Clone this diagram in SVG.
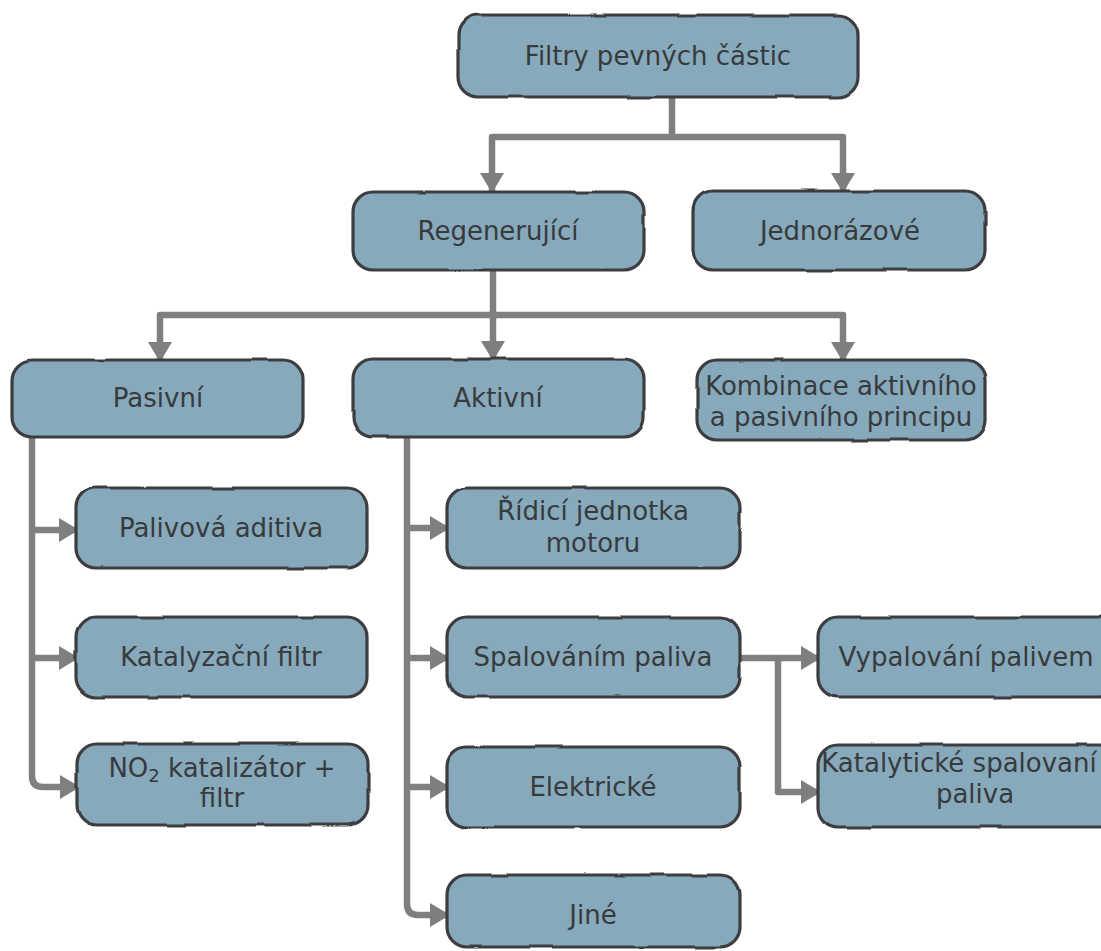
<svg xmlns="http://www.w3.org/2000/svg" width="1101" height="951" viewBox="0 0 1101 951">
<style>
.box{fill:#86a9bc;stroke:#3c3e40;stroke-width:3.2;filter:url(#rough)}
.t{font-family:"DejaVu Sans","Liberation Sans",sans-serif;font-size:26px;fill:#383a3c;text-anchor:middle}
.c{fill:none;stroke:#7f7f7f;stroke-width:6.5;stroke-linejoin:round;stroke-linecap:butt}
.ca{fill:none;stroke:#7f7f7f;stroke-width:6.5;stroke-linejoin:round;marker-end:url(#ah)}
</style>
<defs>
<filter id="rough" x="-5%" y="-10%" width="110%" height="120%">
<feTurbulence type="fractalNoise" baseFrequency="0.025" numOctaves="1" seed="5"/>
<feDisplacementMap in="SourceGraphic" scale="3" xChannelSelector="R" yChannelSelector="G"/>
</filter>
<marker id="ah" markerUnits="userSpaceOnUse" markerWidth="24" markerHeight="24" viewBox="0 0 20 24" refX="18" refY="12" orient="auto">
<path d="M0 0 L20 12 L0 24 Z" fill="#7f7f7f"/>
</marker>
</defs>
<rect width="1101" height="951" fill="#ffffff"/>
<g id="connectors">
<path class="c" d="M672 97 V137"/>
<path class="ca" d="M672 137 H492 V191"/>
<path class="ca" d="M672 137 H843 V191"/>
<path class="c" d="M493 270 V315"/>
<path class="ca" d="M493 315 H160 V360"/>
<path class="ca" d="M493 315 V359"/>
<path class="ca" d="M493 315 H843 V360"/>
<path class="ca" d="M32 437 V776 Q32 787 43 787 H78"/>
<path class="ca" d="M32 530 H77"/>
<path class="ca" d="M32 658 H77"/>
<path class="ca" d="M407 437 V904 Q407 915 418 915 H448"/>
<path class="ca" d="M407 528 H448"/>
<path class="ca" d="M407 658 H448"/>
<path class="ca" d="M407 787 H448"/>
<path class="ca" d="M740 658 H819"/>
<path class="ca" d="M778 658 V792 H819"/>
</g>
<g id="n-filtry"><rect class="box" x="458" y="15" width="400" height="82" rx="20"/><text class="t" x="658" y="65">Filtry pevných částic</text></g>
<g id="n-regenerujici"><rect class="box" x="353" y="192" width="291" height="78" rx="20"/><text class="t" x="498" y="240">Regenerující</text></g>
<g id="n-jednorazove"><rect class="box" x="693" y="191" width="292" height="79" rx="20"/><text class="t" x="840" y="240">Jednorázové</text></g>
<g id="n-pasivni"><rect class="box" x="12" y="360" width="291" height="77" rx="20"/><text class="t" x="158" y="407">Pasivní</text></g>
<g id="n-aktivni"><rect class="box" x="353" y="359" width="291" height="78" rx="20"/><text class="t" x="498" y="407">Aktivní</text></g>
<g id="n-kombinace"><rect class="box" x="697" y="360" width="288" height="80" rx="20"/><text class="t" x="841" y="395" font-size="25">Kombinace aktivního</text><text class="t" x="841" y="426" font-size="25">a pasivního principu</text></g>
<g id="n-palivova"><rect class="box" x="76" y="488" width="291" height="80" rx="20"/><text class="t" x="221" y="537">Palivová aditiva</text></g>
<g id="n-katalyzacni"><rect class="box" x="76" y="617" width="291" height="80" rx="20"/><text class="t" x="221" y="666">Katalyzační filtr</text></g>
<g id="n-no2"><rect class="box" x="77" y="744" width="291" height="81" rx="20"/><text class="t" x="222" y="777">NO<tspan font-size="18" dy="5">2</tspan><tspan dy="-5"> katalizátor +</tspan></text><text class="t" x="222" y="807">filtr</text></g>
<g id="n-ridici"><rect class="box" x="447" y="488" width="293" height="80" rx="20"/><text class="t" x="593" y="520">Řídicí jednotka</text><text class="t" x="593" y="552">motoru</text></g>
<g id="n-spalovanim"><rect class="box" x="447" y="617" width="293" height="80" rx="20"/><text class="t" x="593" y="666">Spalováním paliva</text></g>
<g id="n-elektricke"><rect class="box" x="447" y="747" width="293" height="80" rx="20"/><text class="t" x="593" y="796">Elektrické</text></g>
<g id="n-jine"><rect class="box" x="447" y="875" width="293" height="72" rx="20"/><text class="t" x="593" y="924">Jiné</text></g>
<g id="n-vypalovani"><rect class="box" x="818" y="617" width="300" height="80" rx="20"/><text class="t" x="966" y="666">Vypalování palivem</text></g>
<g id="n-katalyticke"><rect class="box" x="818" y="745" width="314" height="82" rx="20"/><text class="t" x="959" y="772" font-size="24">Katalytické spalovaní</text><text class="t" x="975" y="803">paliva</text></g>
</svg>
